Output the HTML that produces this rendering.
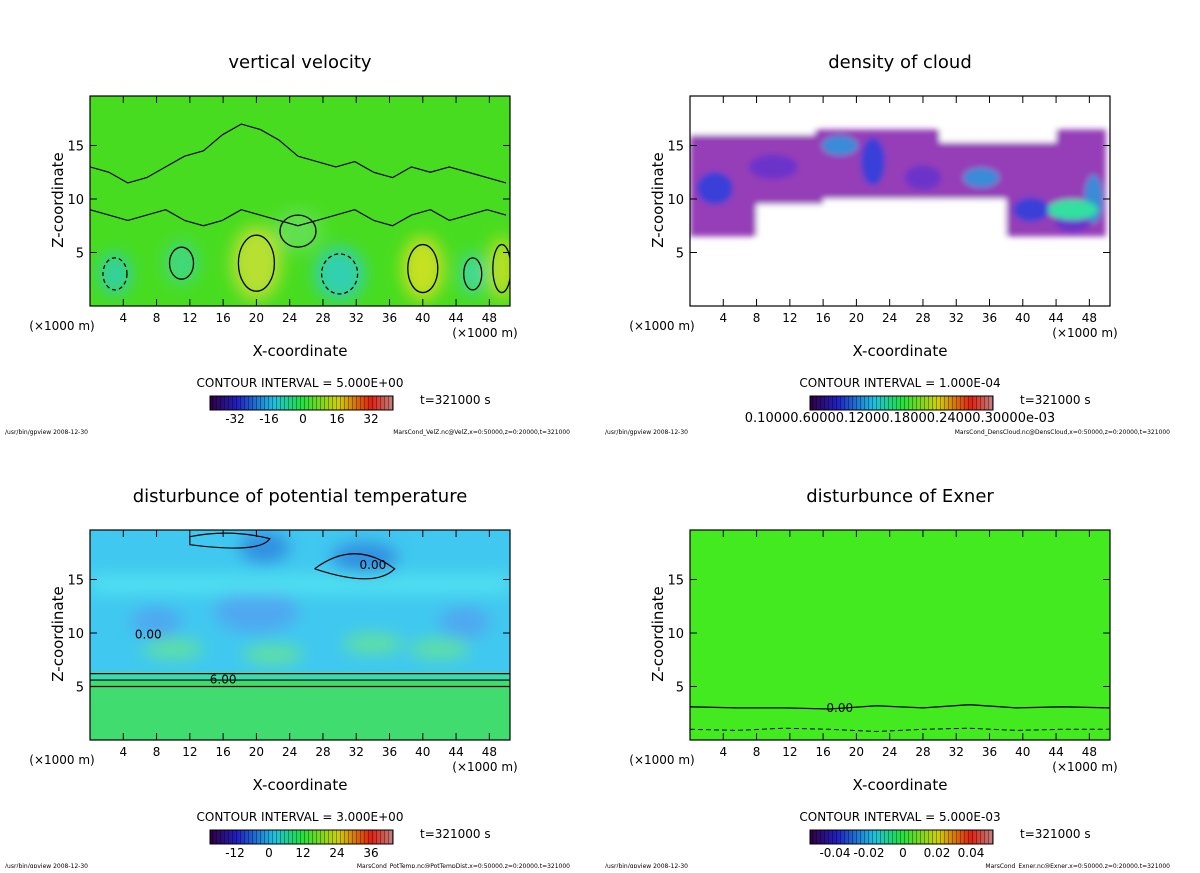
<!DOCTYPE html>
<html><head><meta charset="utf-8"><style>
body{margin:0;background:#fff;width:1200px;height:868px;overflow:hidden;font-family:"Liberation Sans",sans-serif}
svg text{font-family:"DejaVu Sans","Liberation Sans",sans-serif}
</style></head><body>
<svg id="s" width="1200" height="868" xmlns="http://www.w3.org/2000/svg">
<defs>
<linearGradient id="rb" x1="0" x2="1"><stop offset="0" stop-color="#300040"/><stop offset=".15" stop-color="#2020c0"/><stop offset=".35" stop-color="#20c0e0"/><stop offset=".5" stop-color="#20e040"/><stop offset=".7" stop-color="#d0d000"/><stop offset=".88" stop-color="#e02010"/><stop offset="1" stop-color="#c08080"/></linearGradient>
<pattern id="stripes" width="4" height="20" patternUnits="userSpaceOnUse"><rect width="1" height="20" fill="#000" opacity=".35"/></pattern>
<filter id="blur"><feGaussianBlur stdDeviation="8"/></filter>
<filter id="blur2"><feGaussianBlur stdDeviation="3"/></filter>
<clipPath id="c0"><rect x="90" y="96" width="420" height="210"/></clipPath>
<clipPath id="c1"><rect x="690" y="96" width="420" height="210"/></clipPath>
<clipPath id="c2"><rect x="90" y="530" width="420" height="210"/></clipPath>
<clipPath id="c3"><rect x="690" y="530" width="420" height="210"/></clipPath>
</defs>
</svg>
<script>
const xTicks=[4,8,12,16,20,24,28,32,36,40,44,48];
const zTicks=[5,10,15];
const titles=["vertical velocity","density of cloud","disturbunce of potential temperature","disturbunce of Exner"];
const intervals=["5.000E+00","1.000E-04","3.000E+00","5.000E-03"];
const cbLabels=[["-32","-16","0","16","32"],["0.10000.60000.12000.18000.24000.30000e-03"],["-12","0","12","24","36"],["-0.04","-0.02","0","0.02","0.04"]];
const files=["MarsCond_VelZ.nc@VelZ,x=0:50000,z=0:20000,t=321000","MarsCond_DensCloud.nc@DensCloud,x=0:50000,z=0:20000,t=321000","MarsCond_PotTemp.nc@PotTempDist,x=0:50000,z=0:20000,t=321000","MarsCond_Exner.nc@Exner,x=0:50000,z=0:20000,t=321000"];
const vvX=[20,40,49.5,3,30,11,46,25];
const vvZ=[4,3.5,3.5,3,3,4,3,7];
const vvRX=[3,2.5,1.5,2,3,2,1.5,3];
const vvRZ=[3.5,3,3,2,2.5,2,2,2];
const vvC=["#b8e030","#c8e020","#c0e020","#30d0a0","#30d0b0","#40d880","#40d8a0","#60e050"];
const vvUpperZ=[13,12.5,11.5,12,13,14,14.5,16,17,16.5,15.5,14,13.5,13,13.5,12.5,12,13,12.5,13,12.5,12,11.5];
const vvLowerZ=[9,8.5,8,8.5,9,8,7.5,8,9,8.5,8,7.5,8,8.5,9,8,7.5,8.5,9,8,8.5,9,8.5];
const cdX=[3,10,18,22,28,35,41,46,48.5];
const cdZ=[11,13,15,13.5,12,12,9,8,10];
const cdRX=[3,4,3,2,3,3,3,3,1.5];
const cdRZ=[2,1.5,1.2,3,1.5,1.2,1.5,1.5,3];
const ptX=[21,33,20,8,45];
const ptZ=[18,17,12,11,11];
const ptRX=[3,4,5,3,3];
const ptRZ=[1.5,1.5,2,1.5,1.5];
const ptGX=[10,22,34,42];
const ptGZ=[8.5,8,9,8.5];
const exLineZ=[3.1,3.0,3.0,2.9,3.2,3.0,3.3,3.0,3.1,3.0];
const exDashZ=[1.0,0.9,1.1,1.0,0.8,1.0,1.1,0.9,1.0,1.0];

const S=document.getElementById('s');
function el(t,a,p){const e=document.createElementNS('http://www.w3.org/2000/svg',t);for(const k in a)e.setAttribute(k,a[k]);(p||S).appendChild(e);return e;}
function tx(x,y,s,size,anchor,p){const e=el('text',{x:x,y:y,'font-size':size,'text-anchor':anchor||'middle',fill:'#000'},p);e.textContent=s;return e;}
const offs=[[0,0],[600,0],[0,434],[600,434]];
for(let i=0;i<4;i++){
 const ox=offs[i][0],oy=offs[i][1];
 const X=v=>ox+90+v*8.32, Z=v=>oy+306-v*10.7;
 const g=el('g',{'clip-path':`url(#c${i})`});
 
 
 if(i===0){
  el('rect',{x:ox+90,y:oy+96,width:420,height:210,fill:'#48dc20'},g);
  const b=el('g',{filter:'url(#blur)'},g);
  for(let k=0;k<vvX.length;k++){const e=el('ellipse',{cx:X(vvX[k]),cy:Z(vvZ[k]),rx:vvRX[k]*8.32,ry:vvRZ[k]*10.7,fill:vvC[k]},b);}
  for(let k=0;k<vvX.length;k++){el('ellipse',{cx:X(vvX[k]),cy:Z(vvZ[k]),rx:vvRX[k]*6,ry:vvRZ[k]*8,fill:'none',stroke:'#000','stroke-width':1.3,'stroke-dasharray':vvC[k].startsWith('#3')?'4 3':'none'},g);}
  const step=50/(vvUpperZ.length-1);
  let d='',d2='';
  vvUpperZ.forEach((z,k)=>{d+=(k?' L':'M')+X(k*step)+','+Z(z);});
  vvLowerZ.forEach((z,k)=>{d2+=(k?' L':'M')+X(k*step)+','+Z(z);});
  el('path',{d:d,fill:'none',stroke:'#000','stroke-width':1.2,'stroke-linejoin':'round'},g);
  el('path',{d:d2,fill:'none',stroke:'#000','stroke-width':1.2,'stroke-linejoin':'round'},g);
 } else if(i===1){
  el('rect',{x:ox+90,y:oy+96,width:420,height:210,fill:'#fff'},g);
  const b=el('g',{filter:'url(#blur2)'},g);
  el('rect',{x:X(0),y:Z(16.5),width:X(50)-X(0),height:Z(6.5)-Z(16.5),fill:'#8a28b0',opacity:.9},b);
  el('rect',{x:X(16),y:Z(10),width:X(38)-X(16),height:Z(6)-Z(10.5),fill:'#fff'},b);
  el('rect',{x:X(8),y:Z(9.5),width:X(18)-X(8),height:Z(6)-Z(9.5),fill:'#fff'},b);
  el('rect',{x:X(30),y:Z(16.7),width:X(44)-X(30),height:Z(15.3)-Z(16.7),fill:'#fff'},b);
  el('rect',{x:X(0),y:Z(17),width:X(15)-X(0),height:Z(16)-Z(17),fill:'#fff'},b);
  for(let k=0;k<cdX.length;k++){const e=el('ellipse',{cx:X(cdX[k]),cy:Z(cdZ[k]),rx:cdRX[k]*6,ry:cdRZ[k]*8,fill:k%3===0?'#2040e0':(k%3===1?'#6030d0':'#20a0e0'),opacity:.8},b);}
  el('ellipse',{cx:X(46),cy:Z(9),rx:25,ry:10,fill:'#30e0a0'},b);
 } else if(i===2){
  el('rect',{x:ox+90,y:oy+96,width:420,height:210,fill:'#40c8f0'},g);
  el('rect',{x:X(0),y:Z(6),width:420,height:Z(0)-Z(6),fill:'#40dc70'},g);
  el('rect',{x:X(0),y:Z(6.4),width:420,height:8,fill:'#40d8b0'},g);
  const b=el('g',{filter:'url(#blur)'},g);
  for(let k=0;k<ptX.length;k++){const e=el('ellipse',{cx:X(ptX[k]),cy:Z(ptZ[k]),rx:ptRX[k]*8.32,ry:ptRZ[k]*10.7,fill:k<2?'#3090e0':'#50a8f0'},b);}
  for(let k=0;k<ptGX.length;k++){el('ellipse',{cx:X(ptGX[k]),cy:Z(ptGZ[k]),rx:30,ry:10,fill:'#60e0a0'},b);}
  el('rect',{x:X(0),y:Z(15.5),width:420,height:20,fill:'#50e0f0'},b);
  for(const z of [6.2,5.6,5.0]) el('line',{x1:X(0),x2:X(51),y1:Z(z),y2:Z(z),stroke:'#000','stroke-width':1.2},g);
  el('path',{d:`M${X(27)},${Z(16)} q40,-30 80,0 q-20,20 -80,0`,fill:'none',stroke:'#000','stroke-width':1.2},g);
  el('path',{d:`M${X(12)},${Z(19)} q40,-8 80,2 q-10,15 -80,6 z`,fill:'none',stroke:'#000','stroke-width':1.2},g);
  tx(X(34),Z(16),"0.00",12,'middle',g);tx(X(7),Z(9.5),"0.00",12,'middle',g);tx(X(16),Z(5.3),"6.00",12,'middle',g);
 } else {
  el('rect',{x:ox+90,y:oy+96,width:420,height:210,fill:'#44ea20'},g);
  let d='',d2='';exLineZ.forEach((z,k)=>{d+=(k?' L':'M')+X(k*5.6)+','+Z(z);});exDashZ.forEach((z,k)=>{d2+=(k?' L':'M')+X(k*5.6)+','+Z(z);});
  el('path',{d:d,fill:'none',stroke:'#000','stroke-width':1.3},g);
  el('path',{d:d2,fill:'none',stroke:'#000','stroke-width':1,'stroke-dasharray':'5 3'},g);
  tx(X(18),Z(2.6),"0.00",12,'middle',g);
 }
 const fr=el('rect',{x:ox+90,y:oy+96,width:420,height:210,fill:'none',stroke:'#000','stroke-width':1.2});
 
 for(const t of xTicks){el('line',{x1:X(t),x2:X(t),y1:oy+306,y2:oy+299,stroke:'#000'});el('line',{x1:X(t),x2:X(t),y1:oy+96,y2:oy+103,stroke:'#000'});const l=tx(X(t),oy+322,t,12);}
 for(const t of zTicks){el('line',{x1:ox+90,x2:ox+97,y1:Z(t),y2:Z(t),stroke:'#000'});el('line',{x1:ox+510,x2:ox+503,y1:Z(t),y2:Z(t),stroke:'#000'});const l=tx(ox+84,Z(t)+5,t,13,'end');}
 const ti=tx(ox+300,oy+68,titles[i],18);
 const yl=tx(0,0,"Z-coordinate",15);yl.setAttribute('transform',`translate(${ox+63},${oy+200}) rotate(-90)`);
 tx(ox+62,oy+330,"(×1000 m)",12);tx(ox+485,oy+337,"(×1000 m)",12);
 const xl=tx(ox+300,oy+356,"X-coordinate",15);
 tx(ox+300,oy+387,"CONTOUR INTERVAL = "+intervals[i],12);
 const cb=el('g',{});
 el('rect',{x:ox+210,y:oy+396,width:183,height:14,fill:'url(#rb)',stroke:'#000'},cb);
 el('rect',{x:ox+210,y:oy+396,width:183,height:14,fill:'url(#stripes)'},cb);
 tx(ox+420,oy+404,"t=321000 s",12,'start');
 const L=cbLabels[i];
 if(L.length===1){tx(ox+300,oy+422,L[0],13);}else{L.forEach((s,k)=>tx(ox+235+k*34,oy+423,s,12));}
 tx(ox+5,oy+434,"/usr/bin/gpview   2008-12-30",6,'start');
 tx(ox+570,oy+434,files[i],6,'end');
}
</script>
</body></html>
